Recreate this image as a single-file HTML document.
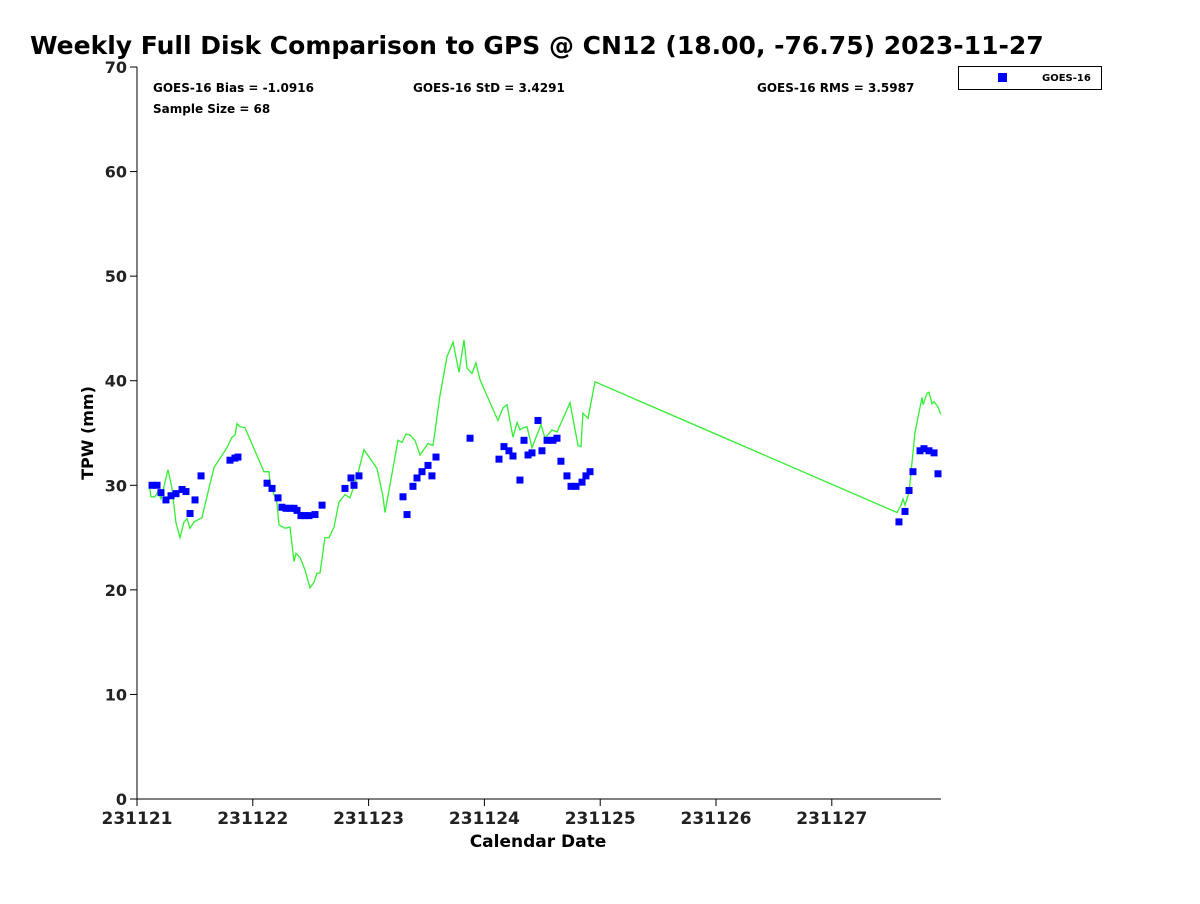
<!DOCTYPE html>
<html><head><meta charset="utf-8"><style>
body{margin:0;background:#fff;font-family:"DejaVu Sans","Liberation Sans",sans-serif}
svg text{font-family:"DejaVu Sans","Liberation Sans",sans-serif;font-weight:bold}
</style></head><body>
<svg id="chart" width="1200" height="900" xmlns="http://www.w3.org/2000/svg">
<text x="30" y="54" font-size="25">Weekly Full Disk Comparison to GPS @ CN12 (18.00, -76.75) 2023-11-27</text>
<text x="153" y="92" font-size="12">GOES-16 Bias = -1.0916</text>
<text x="153" y="113" font-size="12">Sample Size = 68</text>
<text x="413" y="92" font-size="12">GOES-16 StD = 3.4291</text>
<text x="757" y="92" font-size="12">GOES-16 RMS = 3.5987</text>
<g>
<rect x="958.5" y="66.5" width="143" height="23" fill="#fff" stroke="#000"/>
<rect x="998" y="73" width="9" height="9" fill="#0000ff"/>
<text x="1042" y="81" font-size="10">GOES-16</text>
</g>
<text transform="translate(93,433) rotate(-90)" text-anchor="middle" font-size="16">TPW (mm)</text>
<text x="538" y="847" text-anchor="middle" font-size="17">Calendar Date</text>
<g id="axes"></g>
<g id="marks"></g>
</svg>
<script>
const xTickLabels=["231121","231122","231123","231124","231125","231126","231127"];
const yTickLabels=[0,10,20,30,40,50,60,70];
const gpsDay=[0.104,0.121,0.155,0.181,0.207,0.268,0.302,0.337,0.371,0.406,0.432,0.458,0.492,0.561,0.604,0.665,0.777,0.820,0.846,0.864,0.889,0.933,1.097,1.140,1.149,1.209,1.226,1.278,1.321,1.356,1.373,1.408,1.451,1.494,1.528,1.554,1.580,1.623,1.658,1.701,1.744,1.796,1.839,1.900,1.960,2.073,2.124,2.142,2.254,2.288,2.323,2.358,2.401,2.444,2.513,2.556,2.617,2.677,2.729,2.781,2.824,2.850,2.893,2.927,2.962,3.117,3.161,3.195,3.247,3.282,3.307,3.333,3.368,3.411,3.489,3.523,3.584,3.627,3.739,3.808,3.834,3.851,3.895,3.955,6.563,6.598,6.615,6.632,6.667,6.718,6.779,6.788,6.822,6.839,6.865,6.883,6.917,6.94];
const gpsTpw=[30.2,28.9,28.9,29.4,28.7,31.5,29.7,26.4,25.0,26.5,26.8,25.9,26.5,26.9,28.9,31.7,33.6,34.6,34.8,35.9,35.6,35.5,31.3,31.3,30.2,28.3,26.2,25.9,26.0,22.7,23.5,23.1,21.9,20.2,20.7,21.6,21.6,25.0,25.0,26.0,28.4,29.1,28.8,30.8,33.4,31.6,28.9,27.4,34.3,34.1,34.9,34.8,34.3,32.9,34.0,33.8,38.6,42.3,43.7,40.8,43.9,41.2,40.7,41.7,40.1,36.2,37.4,37.7,34.6,36.0,35.3,35.5,35.6,33.6,35.8,34.5,35.3,35.1,37.9,33.8,33.7,36.9,36.4,39.9,27.4,28.1,28.7,28.1,29.3,35.0,38.4,37.7,38.8,38.9,37.8,38.0,37.5,36.8];
const goesDay=[0.130,0.173,0.207,0.250,0.294,0.337,0.389,0.423,0.458,0.501,0.553,0.803,0.846,0.872,1.123,1.166,1.218,1.252,1.287,1.321,1.356,1.382,1.416,1.451,1.485,1.537,1.598,1.796,1.848,1.874,1.917,2.297,2.332,2.383,2.418,2.461,2.513,2.547,2.582,2.876,3.126,3.169,3.212,3.247,3.307,3.342,3.377,3.411,3.463,3.497,3.541,3.592,3.627,3.661,3.713,3.748,3.791,3.843,3.877,3.912,6.580,6.632,6.667,6.701,6.762,6.796,6.839,6.883,6.917];
const goesTpw=[30.0,30.0,29.3,28.6,29.0,29.2,29.6,29.4,27.3,28.6,30.9,32.4,32.6,32.7,30.2,29.7,28.8,27.9,27.8,27.8,27.8,27.6,27.1,27.1,27.1,27.2,28.1,29.7,30.7,30.0,30.9,28.9,27.2,29.9,30.7,31.3,31.9,30.9,32.7,34.5,32.5,33.7,33.3,32.8,30.5,34.3,32.9,33.1,36.2,33.3,34.3,34.3,34.5,32.3,30.9,29.9,29.9,30.3,30.9,31.3,26.5,27.5,29.5,31.3,33.3,33.5,33.3,33.1,31.1];
const L=137,R=941,T=67,B=799,XMAX=6.943,YMAX=70;
const xs=d=>L+d/XMAX*(R-L);
const ys=v=>B-v/YMAX*(B-T);
const NS="http://www.w3.org/2000/svg";
const axes=document.getElementById('axes'),marks=document.getElementById('marks');
function mk(tag,attrs,parent){const e=document.createElementNS(NS,tag);for(const k in attrs)e.setAttribute(k,attrs[k]);parent.appendChild(e);return e;}
let a=mk('path',{d:`M${L},${T}V${B}H${R}`,fill:'none',stroke:'#000','stroke-width':1},axes);


yTickLabels.forEach(v=>{const y=ys(v);
 const t=mk('line',{x1:L-7,x2:L,y1:y,y2:y,stroke:'#000'},axes);
 
 
 const tx=mk('text',{x:L-10,y:y+6,'text-anchor':'end','font-size':16,fill:'#222'},axes);tx.textContent=v;
 
 
});
xTickLabels.forEach((lab,i)=>{const x=xs(i);
 const t=mk('line',{x1:x,x2:x,y1:B,y2:B+7,stroke:'#000'},axes);
 
 
 const tx=mk('text',{x:x,y:B+25,'text-anchor':'middle','font-size':17,fill:'#222'},axes);tx.textContent=lab;
 
 
});
const line=mk('polyline',{points:gpsDay.map((d,i)=>xs(d).toFixed(1)+','+ys(gpsTpw[i]).toFixed(1)).join(' '),fill:'none',stroke:'#33ee33','stroke-width':1.3},marks);


goesDay.forEach((d,i)=>{
 const r=mk('rect',{x:xs(d)-3.5,y:ys(goesTpw[i])-3.5,width:7,height:7,fill:'#0000ff'},marks);
 
 
});
</script>
</body></html>
